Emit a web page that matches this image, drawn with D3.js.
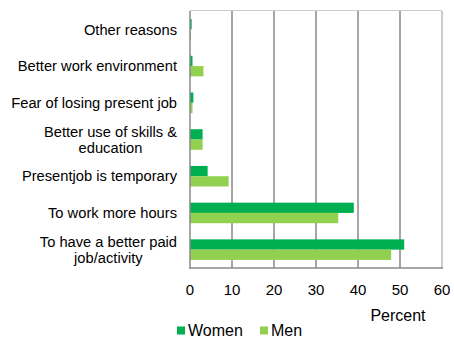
<!DOCTYPE html>
<html><head><meta charset="utf-8">
<script src="https://cdn.jsdelivr.net/npm/d3@7"></script>
<style>body{margin:0;background:#fff;}svg{display:block;font-family:"Liberation Sans",Arial,sans-serif;}</style>
</head><body>
<svg id="c" width="454" height="338"></svg>
<script>
const categories = ["Other reasons","Better work environment","Fear of losing present job","Better use of skills & education","Presentjob is temporary","To work more hours","To have a better paid job/activity"];
const labelLines = [["Other reasons"],["Better work environment"],["Fear of losing present job"],["Better use of skills &","education"],["Presentjob is temporary"],["To work more hours"],["To have a better paid","job/activity"]];
const women = [0.4, 0.6, 0.8, 3.0, 4.2, 39.0, 51.0];
const men = [0.2, 3.2, 0.6, 3.0, 9.2, 35.3, 47.9];
const ticks = [0,10,20,30,40,50,60];
const seriesNames = ["Women","Men"];
const colors = ["#00B050","#92D050"];

const svg = d3.select("#c");
const L = 190, R = 442, T = 11, B = 268;
const x = d3.scaleLinear().domain([0,60]).range([L,R]);
const y = d3.scaleBand().domain(categories).range([T,B]).paddingInner(0.44).paddingOuter(0.22);

// gridlines
svg.append("g").selectAll("line").data(ticks.slice(1)).join("line")
  .attr("x1",d=>x(d)).attr("x2",d=>x(d)).attr("y1",T).attr("y2",B)
  .attr("stroke",d=>d===60?"#bbb":"#888").attr("stroke-width",1.5);
svg.append("line").attr("x1",L).attr("x2",R).attr("y1",T-0.5).attr("y2",T-0.5).attr("stroke","#ccc").attr("stroke-width",1);

const sub = d3.scaleBand().domain([0,1]).range([0,y.bandwidth()]);
const data = [women,men];
data.forEach((arr,si)=>{
  svg.append("g").selectAll("rect").data(arr).join("rect")
    .attr("x",x(0)).attr("y",(d,i)=>y(categories[i])+sub(si))
    .attr("width",d=>x(d)-x(0)).attr("height",sub.bandwidth())
    .attr("fill",colors[si]);
});

// axes lines
svg.append("line").attr("x1",L).attr("x2",L).attr("y1",T).attr("y2",B+1).attr("stroke","#888").attr("stroke-width",1.5);
svg.append("line").attr("x1",L).attr("x2",R+1).attr("y1",B).attr("y2",B).attr("stroke","#888").attr("stroke-width",1.5);

// category labels
const lg = svg.append("g");
const labelRight = 177;
labelLines.forEach((lines,i)=>{
  const cy = y(categories[i]) + y.bandwidth()/2;
  const lh = 16;
  const t = lg.append("text").attr("font-size",14.7).attr("fill","#000");
  const spans = lines.map((ln,k)=> t.append("tspan").attr("y",cy + (k-(lines.length-1)/2)*lh).attr("dy","0.35em").text(ln));
  if (lines.length === 1) {
    spans[0].attr("x",labelRight).attr("text-anchor","end");
  } else {
    const w = d3.max(spans, s=>s.node().getComputedTextLength());
    const cx = labelRight - w/2;
    spans.forEach(s=>s.attr("x",cx).attr("text-anchor","middle"));
  }
});

// x tick labels
svg.append("g").selectAll("text").data(ticks).join("text")
  .attr("x",d=>x(d)).attr("y",290).attr("dy","0.35em").attr("text-anchor","middle")
  .attr("font-size",15).attr("fill","#000").text(d=>d);
svg.append("text").attr("x",398).attr("y",315).attr("dy","0.35em").attr("text-anchor","middle")
  .attr("font-size",16).attr("fill","#000").text("Percent");

// legend
const legX = [177, 260];
seriesNames.forEach((n,i)=>{
  svg.append("rect").attr("x",legX[i]).attr("y",326.5).attr("width",8).attr("height",8).attr("fill",colors[i]);
  svg.append("text").attr("x",legX[i]+11).attr("y",330).attr("dy","0.35em").attr("font-size",16).attr("fill","#000").text(n);
});
</script>
</body></html>
